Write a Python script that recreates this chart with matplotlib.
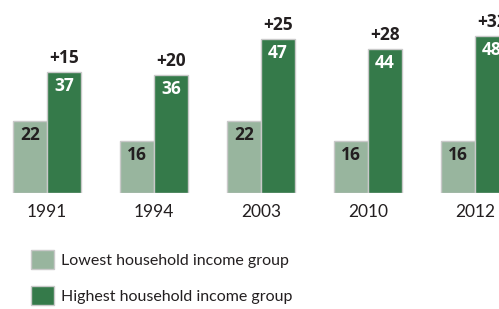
import matplotlib
matplotlib.use('Agg')
import matplotlib.pyplot as plt
import numpy as np

years = ['1991', '1994', '2003', '2010', '2012']
lowest = [22, 16, 22, 16, 16]
highest = [37, 36, 47, 44, 48]
gap_labels = ['+15', '+20', '+25', '+28', '+32']

light = '#98b59e'
dark = '#357a4a'
edge = '#c9c9c9'
txt = '#231f20'

plt.rcParams['font.family'] = ['Lato', 'DejaVu Sans']

fig = plt.figure(figsize=(4.99, 3.09), dpi=100)
ax = fig.add_axes([0, 116 / 309, 1, 193 / 309])

x = np.arange(len(years))
w = 34 / 107
b1 = ax.bar(x - w / 2, lowest, w, color=light, edgecolor=edge, linewidth=1,
            label='Lowest household income group')
b2 = ax.bar(x + w / 2, highest, w, color=dark, edgecolor=edge, linewidth=1,
            label='Highest household income group')

num_font = dict(family=['Open Sans', 'DejaVu Sans'], fontweight='bold', fontsize=12.5)
for i in range(len(years)):
    ax.annotate(str(lowest[i]), (x[i] - w / 2, lowest[i]), xytext=(0, -3.5),
                textcoords='offset points', ha='center', va='top', color=txt, **num_font)
    ax.annotate(str(highest[i]), (x[i] + w / 2, highest[i]), xytext=(0, -3.5),
                textcoords='offset points', ha='center', va='top', color='white', **num_font)
    ax.annotate(gap_labels[i], (x[i] + w / 2, highest[i]), xytext=(0, 3.5),
                textcoords='offset points', ha='center', va='bottom', color=txt, **num_font)

ax.set_xlim(-47 / 107, (499 - 47) / 107)
ax.set_ylim(0, 193 / 3.27)
ax.set_xticks(x)
ax.set_xticklabels(years, fontsize=12.5, color=txt)
ax.tick_params(axis='x', length=0, pad=8)
ax.set_yticks([])
for s in ax.spines.values():
    s.set_visible(False)
ax.patch.set_alpha(0)

fig.legend(handles=[b1, b2], loc='upper left', bbox_to_anchor=(31 / 499, 1 - 250 / 309),
           frameon=False, fontsize=11.5, handlelength=1.45, handleheight=1.45,
           handletextpad=0.45, labelspacing=1.05, borderpad=0, borderaxespad=0,
           labelcolor=txt)

fig.savefig('out.png', dpi=100)
